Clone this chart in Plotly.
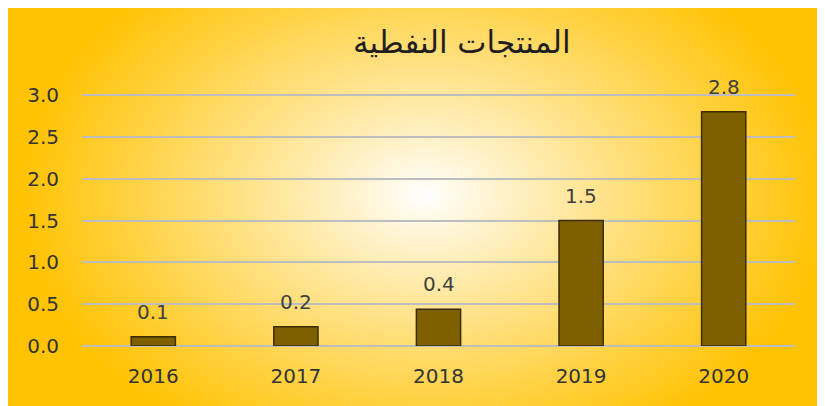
import base64, struct, zlib
import numpy as np
import plotly.graph_objects as go

# ---- data ----
years = [2016, 2017, 2018, 2019, 2020]
year_labels = ["2016", "2017", "2018", "2019", "2020"]
values = [0.11, 0.23, 0.44, 1.50, 2.80]
title_text = "المنتجات النفطية"
y_ticks = [0.0, 0.5, 1.0, 1.5, 2.0, 2.5, 3.0]

# page has an 8px body margin, so figure coords = page coords - 8
W, H = 817, 398
ML, MR, MT, MB = 74, 30, 84, 60
PW, PH = W - ML - MR, H - MT - MB

# ---- radial gradient background as a small PNG ----
def make_png(arr):
    h, w, _ = arr.shape
    raw = b"".join(b"\x00" + arr[j].astype(np.uint8).tobytes() for j in range(h))
    def chunk(tag, data):
        c = struct.pack(">I", len(data)) + tag + data
        return c + struct.pack(">I", zlib.crc32(tag + data) & 0xFFFFFFFF)
    return (b"\x89PNG\r\n\x1a\n" + chunk(b"IHDR", struct.pack(">IIBBBBB", w, h, 8, 2, 0, 0, 0))
            + chunk(b"IDAT", zlib.compress(raw, 9)) + chunk(b"IEND", b""))

gx0, gy0, gx1, gy1 = 0, 0, W, H
iw, ih = 272, 134
xs = gx0 + (np.arange(iw) + 0.5) * (gx1 - gx0) / iw
ys = gy0 + (np.arange(ih) + 0.5) * (gy1 - gy0) / ih
X, Y = np.meshgrid(xs, ys)
r = np.sqrt(((X - 417) / 405) ** 2 + ((Y - 187) / 280) ** 2)
f = np.clip(r, 0, 1) ** 0.95
img = np.stack([255 + 0 * f, 255 - 60 * f, 255 - 252 * f], axis=-1)
uri = "data:image/png;base64," + base64.b64encode(make_png(np.clip(img, 0, 255))).decode()

fig = go.Figure()
fig.add_trace(go.Bar(
    x=years, y=values, width=0.31,
    marker=dict(color="#7F6000", line=dict(color="#3A2C00", width=1.5)),
    hoverinfo="skip",
))

for yr, v in zip(years, values):
    fig.add_annotation(x=yr, y=v, text=f"{v:.1f}", showarrow=False,
                       yanchor="bottom", yshift=11,
                       font=dict(family="DejaVu Sans", size=20, color="#404040"))

fig.add_layout_image(dict(
    source=uri, xref="paper", yref="paper",
    x=(gx0 - ML) / PW, y=(H - MB - gy0) / PH,
    sizex=(gx1 - gx0) / PW, sizey=(gy1 - gy0) / PH,
    xanchor="left", yanchor="top", sizing="stretch", layer="below",
))

fig.add_annotation(text=title_text, xref="paper", yref="paper",
                   x=(454 - ML) / PW, y=(H - MB - 34) / PH,
                   xanchor="center", yanchor="middle", showarrow=False,
                   font=dict(family="DejaVu Sans", size=31, color="#1F1F1F"))

fig.update_layout(
    width=W, height=H,
    margin=dict(l=ML, r=MR, t=MT, b=MB, pad=0, autoexpand=False),
    paper_bgcolor="white", plot_bgcolor="rgba(0,0,0,0)",
    showlegend=False,
    font=dict(family="DejaVu Sans", color="#404040"),
)
fig.update_xaxes(range=[2015.5, 2020.5], tickvals=years, ticktext=year_labels,
                 showgrid=False, showline=False, zeroline=False,
                 ticks="outside", ticklen=12, tickcolor="rgba(0,0,0,0)",
                 automargin=False, fixedrange=True,
                 tickfont=dict(size=20, color="#333333"))
fig.update_yaxes(range=[0, 3.036], tickvals=y_ticks, tickformat=".1f", automargin=False,
                 showgrid=True, gridcolor="#BDBDBD", gridwidth=2,
                 zeroline=True, zerolinecolor="#BDBDBD", zerolinewidth=2,
                 showline=False, ticks="outside", ticklen=18, tickcolor="rgba(0,0,0,0)",
                 fixedrange=True,
                 tickfont=dict(size=20, color="#333333"))

fig.write_html("out.html")
